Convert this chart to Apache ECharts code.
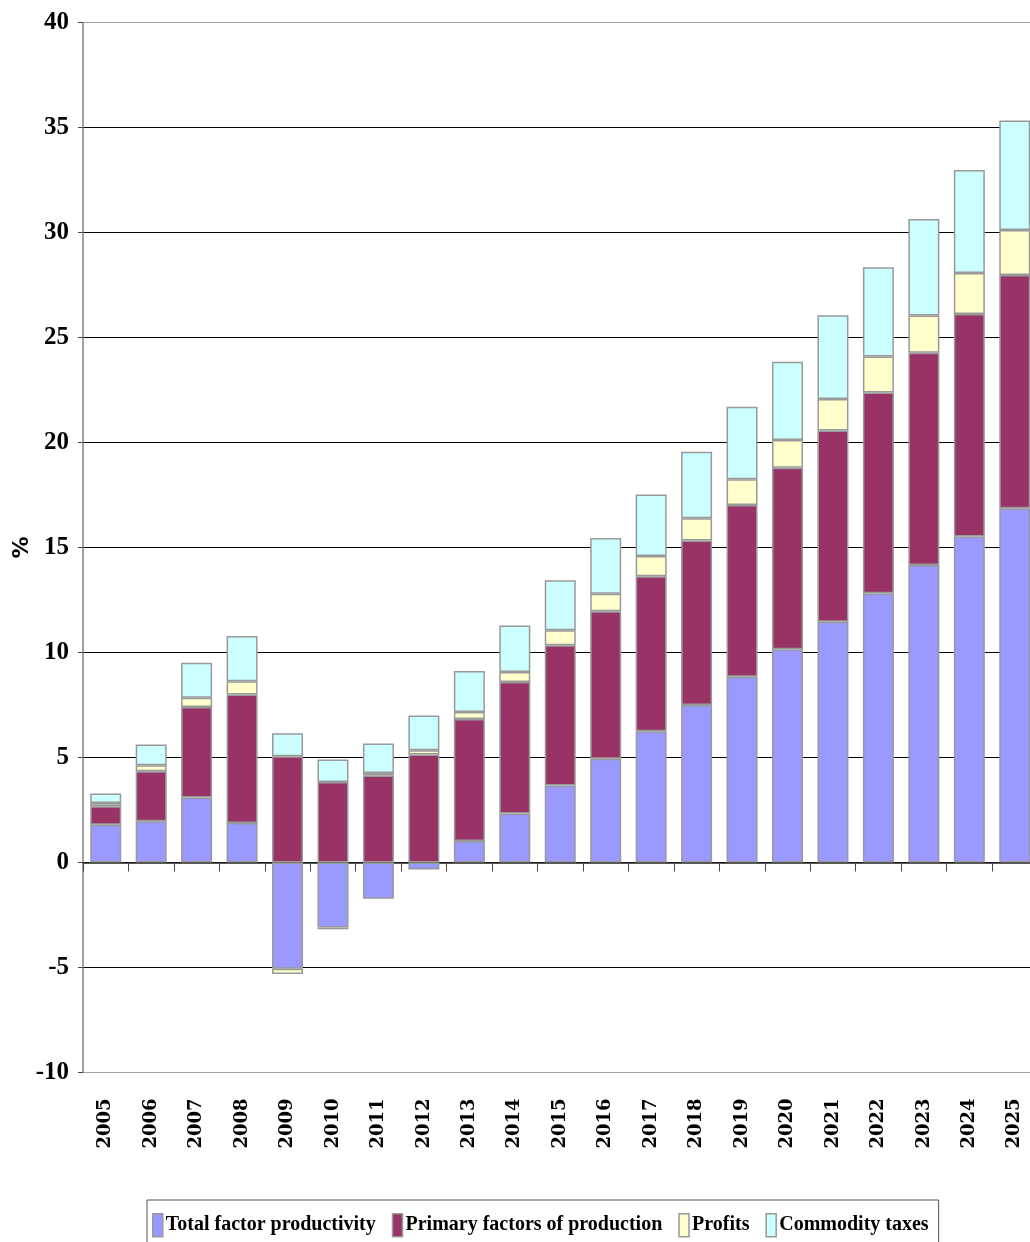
<!DOCTYPE html>
<html>
<head>
<meta charset="utf-8">
<script src="https://cdn.jsdelivr.net/npm/echarts@6/dist/echarts.min.js"></script>
<style>
  html, body { margin: 0; padding: 0; background: #fff; }
  #chart { width: 1030px; height: 1242px; }
</style>
</head>
<body>
<div id="chart"></div>
<script>
// Contributions to growth, per cent, by year
const years = ['2005','2006','2007','2008','2009','2010','2011','2012','2013','2014','2015',
               '2016','2017','2018','2019','2020','2021','2022','2023','2024','2025'];
const totalFactorProductivity = [1.80, 1.97, 3.10, 1.88, -5.06, -3.10, -1.73, -0.33, 1.02, 2.33, 3.67,
                                 4.94, 6.25, 7.50, 8.85, 10.15, 11.47, 12.82, 14.17, 15.52, 16.87];
const primaryFactors = [0.88, 2.38, 4.30, 6.12, 5.06, 3.83, 4.14, 5.14, 5.81, 6.27, 6.68,
                        7.03, 7.38, 7.83, 8.17, 8.65, 9.10, 9.56, 10.10, 10.60, 11.11];
const profits = [0.15, 0.28, 0.44, 0.63, -0.25, -0.08, 0.12, 0.21, 0.34, 0.47, 0.71,
                 0.83, 0.96, 1.06, 1.23, 1.32, 1.50, 1.72, 1.78, 1.95, 2.14];
const commodityTaxes = [0.45, 0.99, 1.67, 2.15, 1.10, 1.07, 1.41, 1.65, 1.95, 2.22, 2.38,
                        2.65, 2.93, 3.17, 3.45, 3.73, 3.99, 4.25, 4.59, 4.91, 5.21];
const seriesNames = ['Total factor productivity', 'Primary factors of production', 'Profits', 'Commodity taxes'];
const seriesColors = ['#9999FF', '#993366', '#FFFFCC', '#CCFFFF'];

const chart = echarts.init(document.getElementById('chart'), null, { renderer: 'canvas' });

const serifBold = { fontFamily: '"Liberation Serif", "DejaVu Serif", serif', fontWeight: 'bold', color: '#000' };

function barSeries(name, data, i) {
  return {
    name: name,
    type: 'bar',
    stack: 'total',
    data: data,
    barWidth: 31,
    itemStyle: { color: seriesColors[i], borderColor: '#999999', borderWidth: 1.5 },
    emphasis: { disabled: true }
  };
}

// grid lines: plot border grey at the ends, black in between
const splitColors = ['#a0a0a0', '#000', '#000', '#000', '#000', '#000', '#000', '#000', '#000', '#000', '#a0a0a0'];

chart.setOption({
  animation: false,
  backgroundColor: '#fff',
  grid: {
    left: 83, top: 22.5, width: 954.5, height: 1050,
    containLabel: false,
    outerBoundsMode: 'none',
    show: false
  },
  legend: {
    left: 147, top: 1200,
    data: seriesNames,
    itemWidth: 10, itemHeight: 23, itemGap: 16,
    icon: 'rect',
    padding: [13, 10, 30, 5],
    borderColor: '#555', borderWidth: 1,
    itemStyle: { borderColor: '#999', borderWidth: 1.5 },
    textStyle: Object.assign({}, serifBold, { fontSize: 20, padding: [0, 0, 0, -2] })
  },
  xAxis: [
    {
      type: 'category',
      data: years,
      axisLine: { onZero: true, lineStyle: { color: '#222', width: 1.5 } },
      axisTick: { show: true, inside: false, length: 9, lineStyle: { color: '#444', width: 1 } },
      axisLabel: { show: false },
      splitLine: { show: false }
    },
    {
      type: 'category',
      data: years,
      position: 'bottom',
      axisLine: { show: false, onZero: false },
      axisTick: { show: false },
      axisLabel: Object.assign({}, serifBold, {
        fontFamily: '"DejaVu Serif", serif',
        fontSize: 18, rotate: 90, margin: 26, interval: 0
      }),
      splitLine: { show: false }
    }
  ],
  yAxis: {
    type: 'value',
    min: -10, max: 40, interval: 5,
    name: '%',
    nameLocation: 'middle',
    nameGap: 50,
    nameRotate: 90,
    nameMoveOverlap: false,
    nameTextStyle: { fontFamily: '"DejaVu Sans", sans-serif', fontWeight: 'bold', fontSize: 22, color: '#000' },
    axisLine: { show: true, lineStyle: { color: '#808080', width: 1.5 } },
    axisTick: { show: true, length: 5, lineStyle: { color: '#444' } },
    axisLabel: Object.assign({}, serifBold, { fontSize: 25, margin: 14 }),
    splitLine: { show: true, lineStyle: { color: splitColors, width: 1 } }
  },
  series: [
    barSeries(seriesNames[0], totalFactorProductivity, 0),
    barSeries(seriesNames[1], primaryFactors, 1),
    barSeries(seriesNames[2], profits, 2),
    barSeries(seriesNames[3], commodityTaxes, 3)
  ]
});
</script>
</body>
</html>
